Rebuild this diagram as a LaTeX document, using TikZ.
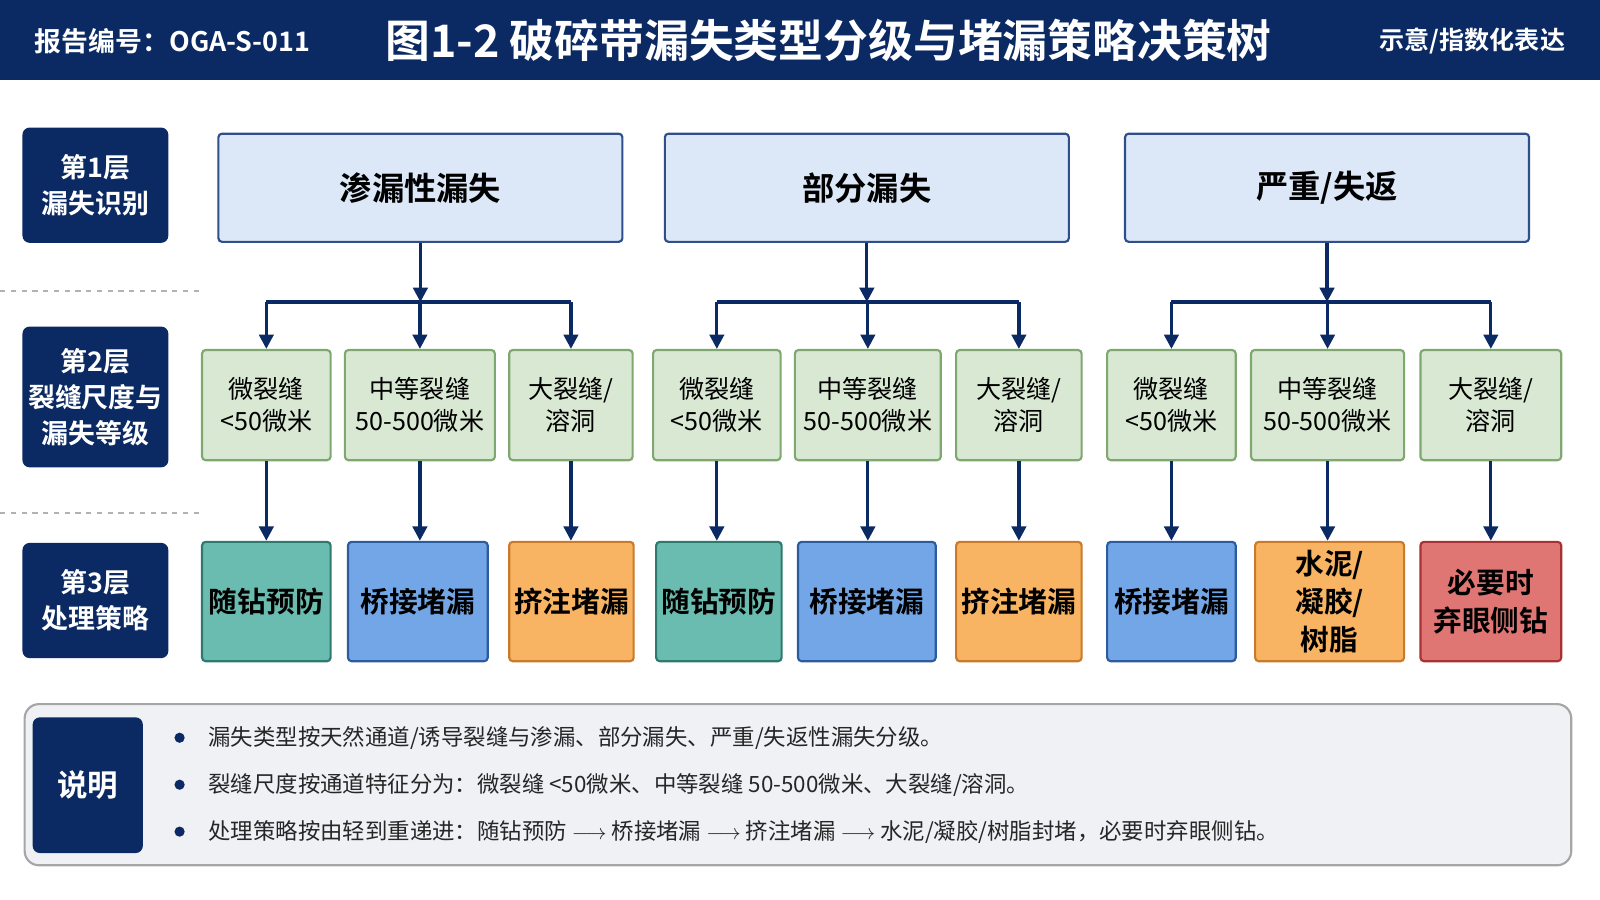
\documentclass[tikz,border=0pt]{standalone}
\usepackage{fontspec}
\setmainfont{Noto Sans CJK SC}[BoldFont={Noto Sans CJK SC Bold}]
\usetikzlibrary{arrows.meta}
\definecolor{navy}{HTML}{0B2A63}
\definecolor{topfill}{HTML}{DCE8F8}
\definecolor{topline}{HTML}{2F4F8A}
\definecolor{midfill}{HTML}{D9E8D3}
\definecolor{midline}{HTML}{7FA870}
\definecolor{tealfill}{HTML}{6BBCB0}
\definecolor{tealline}{HTML}{2E7A6E}
\definecolor{bluefill}{HTML}{72A6E6}
\definecolor{blueline}{HTML}{2D5C9E}
\definecolor{orangefill}{HTML}{F8B462}
\definecolor{orangeline}{HTML}{C97A2A}
\definecolor{redfill}{HTML}{E07673}
\definecolor{redline}{HTML}{A83232}
\definecolor{notefill}{HTML}{F0F1F5}
\newcommand{\fs}[1]{\fontsize{#1}{\numexpr #1*13/10\relax}\selectfont}
\begin{document}
\begin{tikzpicture}[x=0.02cm,y=-0.02cm]
  \useasboundingbox (0,0) rectangle (1568,882);

  \tikzstyle{layer}=[rounded corners=4pt, fill=navy, text=white, font=\bfseries\fs{15}, align=center, minimum width=2.86cm, inner sep=0pt];
  \tikzstyle{topbox}=[draw=topline, line width=1.2pt, rounded corners=2pt, fill=topfill, font=\bfseries\fs{18}, minimum width=7.92cm, minimum height=2.12cm];
  \tikzstyle{midbox}=[draw=midline, line width=1.2pt, rounded corners=2pt, fill=midfill, font=\fs{14}, align=center, minimum height=2.16cm, inner sep=0pt];
  \tikzstyle{leaf}=[line width=1.2pt, rounded corners=2pt, font=\bfseries\fs{16}, align=center, minimum height=2.34cm, inner sep=0pt];
  \tikzstyle{teal}=[leaf, draw=tealline, fill=tealfill];
  \tikzstyle{blue}=[leaf, draw=blueline, fill=bluefill];
  \tikzstyle{orange}=[leaf, draw=orangeline, fill=orangefill];
  \tikzstyle{red}=[leaf, draw=redline, fill=redfill];
  \tikzstyle{link}=[draw=navy, line width=1.8pt];
  \tikzstyle{arrow}=[link, -{Triangle[length=8pt,width=8pt]}];

  % header
  \fill[navy] (0,0) rectangle (1568,78);
  \node (report) at (28,40) [anchor=west, text=white, font=\bfseries\fs{15}] {报告编号：OGA-S-011};
  \node (title) at (812,40) [text=white, font=\bfseries\fs{25}] {图1-2 破碎带漏失类型分级与堵漏策略决策树};
  \node (note) at (1540,40) [anchor=east, text=white, font=\bfseries\fs{14}] {示意/指数化表达};

  % layers
  \node (layer1) at (93.5,181.5) [layer, minimum height=2.26cm] {第1层\\漏失识别};
  \node (layer2) at (93.5,389) [layer, minimum height=2.76cm] {第2层\\裂缝尺度与\\漏失等级};
  \node (layer3) at (93.5,588.5) [layer, minimum height=2.26cm] {第3层\\处理策略};
  \draw[gray!60, line width=1.2pt, dashed] (0,285) -- (195,285);
  \draw[gray!60, line width=1.2pt, dashed] (0,503) -- (195,503);

  % level 1
  \node (top1) at (412,184) [topbox] {渗漏性漏失};
  \node (top2) at (849.5,184) [topbox] {部分漏失};
  \node (top3) at (1300.5,184) [topbox] {严重/失返};

  % level 2
  \node (mid11) at (261,397) [midbox, minimum width=2.52cm] {微裂缝\\<50微米};
  \node (mid12) at (411.5,397) [midbox, minimum width=2.94cm] {中等裂缝\\50-500微米};
  \node (mid13) at (559.5,397) [midbox, minimum width=2.42cm] {大裂缝/\\溶洞};
  \node (mid21) at (702.5,397) [midbox, minimum width=2.5cm] {微裂缝\\<50微米};
  \node (mid22) at (850.5,397) [midbox, minimum width=2.86cm] {中等裂缝\\50-500微米};
  \node (mid23) at (998.5,397) [midbox, minimum width=2.46cm] {大裂缝/\\溶洞};
  \node (mid31) at (1148,397) [midbox, minimum width=2.52cm] {微裂缝\\<50微米};
  \node (mid32) at (1301,397) [midbox, minimum width=3.0cm] {中等裂缝\\50-500微米};
  \node (mid33) at (1461,397) [midbox, minimum width=2.76cm] {大裂缝/\\溶洞};

  % level 3
  \node (leaf11) at (261,589.5) [teal, minimum width=2.52cm] {随钻预防};
  \node (leaf12) at (409.5,589.5) [blue, minimum width=2.74cm] {桥接堵漏};
  \node (leaf13) at (560,589.5) [orange, minimum width=2.44cm] {挤注堵漏};
  \node (leaf21) at (704.5,589.5) [teal, minimum width=2.46cm] {随钻预防};
  \node (leaf22) at (849.5,589.5) [blue, minimum width=2.7cm] {桥接堵漏};
  \node (leaf23) at (998.5,589.5) [orange, minimum width=2.46cm] {挤注堵漏};
  \node (leaf31) at (1148,589.5) [blue, minimum width=2.52cm] {桥接堵漏};
  \node (leaf32) at (1303,589.5) [orange, minimum width=2.92cm] {水泥/\\凝胶/\\树脂};
  \node (leaf33) at (1461,589.5) [red, minimum width=2.76cm] {必要时\\弃眼侧钻};

  % connectors
  \foreach \g in {1,2,3}{
    \coordinate (fork\g) at ([yshift=-1.16cm]top\g.south);
    \draw[arrow] (top\g.south) -- (fork\g);
    \draw[link] (mid\g1.north |- fork\g) -- (mid\g3.north |- fork\g);
    \foreach \k in {1,2,3}{
      \draw[arrow] (mid\g\k.north |- fork\g) -- (mid\g\k.north);
      \draw[arrow] (mid\g\k.south) -- (mid\g\k.south |- leaf\g\k.north);
    }
  }

  % notes
  \node (notes) at (782,769) [draw=gray!70, line width=1.2pt, rounded corners=8pt, fill=notefill, minimum width=30.32cm, minimum height=3.16cm] {};
  \node (notetag) at (86,769.5) [layer, minimum width=2.16cm, minimum height=2.66cm, font=\bfseries\fs{17}] {说明};
  \foreach \t [count=\i] in {漏失类型按天然通道/诱导裂缝与渗漏、部分漏失、严重/失返性漏失分级。,
      裂缝尺度按通道特征分为：微裂缝 <50微米、中等裂缝 50-500微米、大裂缝/溶洞。,
      处理策略按由轻到重递进：随钻预防 $\longrightarrow$ 桥接堵漏 $\longrightarrow$ 挤注堵漏 $\longrightarrow$ 水泥/凝胶/树脂封堵，必要时弃眼侧钻。}{
    \fill[navy] (176,677+46*\i) circle (5);
    \node (line\i) at (198,677+46*\i) [anchor=west, font=\fontsize{12.5}{16}\selectfont, text=black!85] {\t};
  }
\end{tikzpicture}
\end{document}
